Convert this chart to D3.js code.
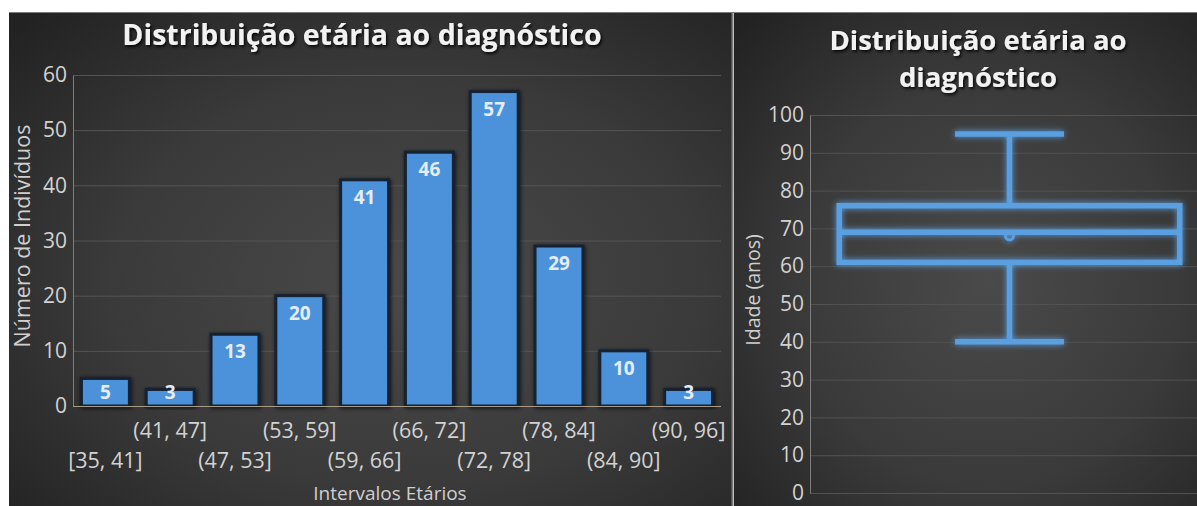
<!DOCTYPE html>
<html>
<head>
<meta charset="utf-8">
<script src="https://cdn.jsdelivr.net/npm/d3@7"></script>
<style>
  html, body { margin: 0; padding: 0; background: #ffffff; }
  svg { display: block; }
  text { font-family: "Open Sans", "Noto Sans", sans-serif; }
</style>
</head>
<body>
<svg id="chart" width="1197" height="506"></svg>
<script>
// Histogram: age intervals and patient counts
const intervals = ["[35, 41]", "(41, 47]", "(47, 53]", "(53, 59]", "(59, 66]",
                   "(66, 72]", "(72, 78]", "(78, 84]", "(84, 90]", "(90, 96]"];
const counts = [5, 3, 13, 20, 41, 46, 57, 29, 10, 3];
const countTicks = [0, 10, 20, 30, 40, 50, 60];

// Box plot: age at diagnosis (years)
const ageStats = ["Idade"];
const ageMin = [40];
const ageQ1 = [61];
const ageMedian = [69];
const ageQ3 = [76];
const ageMax = [95];
const ageMean = [68];
const ageTicks = [0, 10, 20, 30, 40, 50, 60, 70, 80, 90, 100];

const titleText = "Distribuição etária ao diagnóstico";

const svg = d3.select("#chart");
const defs = svg.append("defs");

// panel backgrounds: soft radial dark gradient
function panelGradient(id) {
  const g = defs.append("radialGradient").attr("id", id)
    .attr("cx", "55%").attr("cy", "55%").attr("r", "75%");
  g.append("stop").attr("offset", "0%").attr("stop-color", "#4a4a4a");
  g.append("stop").attr("offset", "55%").attr("stop-color", "#3a3a3a");
  g.append("stop").attr("offset", "100%").attr("stop-color", "#222222");
}
panelGradient("bgLeft");
panelGradient("bgRight");

// title shadow
const sh = defs.append("filter").attr("id", "txtShadow")
  .attr("x", "-10%").attr("y", "-30%").attr("width", "120%").attr("height", "160%");
sh.append("feDropShadow").attr("dx", 1.5).attr("dy", 2).attr("stdDeviation", 1.6)
  .attr("flood-color", "#000").attr("flood-opacity", 0.85);

// bar shadow
const bs = defs.append("filter").attr("id", "barShadow")
  .attr("x", "-20%").attr("y", "-20%").attr("width", "140%").attr("height", "140%");
bs.append("feDropShadow").attr("dx", 1).attr("dy", 1).attr("stdDeviation", 2)
  .attr("flood-color", "#000").attr("flood-opacity", 0.7);

// glow for box plot strokes
const gl = defs.append("filter").attr("id", "glow")
  .attr("x", "-20%").attr("y", "-20%").attr("width", "140%").attr("height", "140%");
gl.append("feGaussianBlur").attr("in", "SourceGraphic").attr("stdDeviation", 3).attr("result", "b");
const gm = gl.append("feMerge");
gm.append("feMergeNode").attr("in", "b");
gm.append("feMergeNode").attr("in", "SourceGraphic");

// ---- panels ----
svg.append("rect").attr("x", 9).attr("y", 12).attr("width", 723).attr("height", 494)
  .attr("fill", "url(#bgLeft)");
svg.append("rect").attr("x", 734).attr("y", 12).attr("width", 463).attr("height", 494)
  .attr("fill", "url(#bgRight)");
svg.append("line").attr("x1", 9).attr("x2", 1197).attr("y1", 12.5).attr("y2", 12.5)
  .attr("stroke", "#7a7a7a").attr("stroke-width", 1);
svg.append("line").attr("x1", 732.5).attr("x2", 732.5).attr("y1", 12).attr("y2", 506)
  .attr("stroke", "#7c7c7c").attr("stroke-width", 2);

// ================= Histogram =================
const x = d3.scaleBand().domain(intervals).range([73, 721])
  .paddingInner(0.26).paddingOuter(0.13);
const y = d3.scaleLinear().domain([0, 60]).range([406, 75]);

const left = svg.append("g");

// gridlines
left.append("g")
  .attr("transform", "translate(73,0)")
  .call(d3.axisLeft(y).tickValues(countTicks).tickSize(-648).tickFormat(""))
  .call(g => g.select(".domain").remove())
  .call(g => g.selectAll(".tick line").attr("stroke", "#555555").attr("stroke-width", 1));

// y axis
left.append("g")
  .attr("transform", "translate(73,0)")
  .call(d3.axisLeft(y).tickValues(countTicks).tickSize(0).tickPadding(6))
  .call(g => g.select(".domain").attr("stroke", "#7e7e7e").attr("stroke-width", 1))
  .call(g => g.selectAll(".tick text").attr("fill", "#d2d2d2")
    .style("font-size", "21px"));

// bars
left.append("g").selectAll("rect").data(counts).join("rect")
  .attr("x", (d, i) => x(intervals[i]))
  .attr("y", d => y(d))
  .attr("width", x.bandwidth())
  .attr("height", d => y(0) - y(d))
  .attr("fill", "#4b92db")
  .attr("stroke", "#152230")
  .attr("stroke-width", 3)
  .attr("filter", "url(#barShadow)");

// baseline
left.append("line").attr("x1", 73).attr("x2", 721)
  .attr("y1", y(0) + 0.5).attr("y2", y(0) + 0.5)
  .attr("stroke", "#a89a88").attr("stroke-width", 1.2);

// bar value labels (inside end, kept above the baseline for short bars)
left.append("g").selectAll("text").data(counts).join("text")
  .attr("x", (d, i) => x(intervals[i]) + x.bandwidth() / 2)
  .attr("y", d => Math.min(y(d) + 24, y(0) - 7))
  .attr("text-anchor", "middle")
  .attr("fill", "#e4ecf6")
  .style("font-size", "19px").style("font-weight", "700")
  .text(d => d);

// x category labels, staggered on two rows
left.append("g").selectAll("text").data(intervals).join("text")
  .attr("x", d => x(d) + x.bandwidth() / 2)
  .attr("y", (d, i) => i % 2 === 1 ? 438 : 468)
  .attr("text-anchor", "middle")
  .attr("fill", "#d2d2d2")
  .style("font-size", "21.5px")
  .text(d => d);

// axis titles
left.append("text").attr("x", 390).attr("y", 500)
  .attr("text-anchor", "middle").attr("fill", "#cfcfcf")
  .style("font-size", "19px").text("Intervalos Etários");
left.append("text")
  .attr("transform", "translate(30,236) rotate(-90)")
  .attr("text-anchor", "middle").attr("fill", "#cfcfcf")
  .style("font-size", "21.5px").text("Número de Indivíduos");

// chart title
left.append("text").attr("x", 362).attr("y", 45)
  .attr("text-anchor", "middle").attr("fill", "#f2f2f2")
  .style("font-size", "28.5px").style("font-weight", "700")
  .attr("filter", "url(#txtShadow)")
  .text(titleText);

// ================= Box plot =================
const yb = d3.scaleLinear().domain([0, 100]).range([493, 115]);
const xb = d3.scaleBand().domain(ageStats).range([812, 1207]).paddingOuter(0.08);

const right = svg.append("g");

right.append("g")
  .attr("transform", "translate(810,0)")
  .call(d3.axisLeft(yb).tickValues(ageTicks).tickSize(-387).tickFormat(""))
  .call(g => g.select(".domain").remove())
  .call(g => g.selectAll(".tick line").attr("stroke", "#525252").attr("stroke-width", 1));

right.append("g")
  .attr("transform", "translate(810,0)")
  .call(d3.axisLeft(yb).tickValues(ageTicks).tickSize(0).tickPadding(6))
  .call(g => g.select(".domain").attr("stroke", "#7e7e7e").attr("stroke-width", 1))
  .call(g => g.selectAll(".tick text").attr("fill", "#d2d2d2")
    .style("font-size", "21px"));

right.append("text")
  .attr("transform", "translate(760,290) rotate(-90)")
  .attr("text-anchor", "middle").attr("fill", "#cfcfcf")
  .style("font-size", "19.5px").text("Idade (anos)");

const titleLines = ["Distribuição etária ao", "diagnóstico"];
right.append("g").selectAll("text").data(titleLines).join("text")
  .attr("x", 978).attr("y", (d, i) => 50 + i * 37)
  .attr("text-anchor", "middle").attr("fill", "#f2f2f2")
  .style("font-size", "27.5px").style("font-weight", "700")
  .attr("filter", "url(#txtShadow)")
  .text(d => d);

const boxColor = "#5a9fe0";
const bw = 5.5;
const box = right.append("g").attr("filter", "url(#glow)")
  .attr("stroke", boxColor).attr("stroke-width", bw).attr("fill", "none");

ageStats.forEach((k, i) => {
  const x0 = xb(k), w = xb.bandwidth(), cx = x0 + w / 2, cap = w * 0.16;
  // whiskers
  box.append("line").attr("x1", cx).attr("x2", cx)
    .attr("y1", yb(ageQ3[i])).attr("y2", yb(ageMax[i]));
  box.append("line").attr("x1", cx).attr("x2", cx)
    .attr("y1", yb(ageQ1[i])).attr("y2", yb(ageMin[i]));
  box.append("line").attr("x1", cx - cap).attr("x2", cx + cap)
    .attr("y1", yb(ageMax[i])).attr("y2", yb(ageMax[i]));
  box.append("line").attr("x1", cx - cap).attr("x2", cx + cap)
    .attr("y1", yb(ageMin[i])).attr("y2", yb(ageMin[i]));
  // box
  box.append("rect").attr("x", x0).attr("y", yb(ageQ3[i]))
    .attr("width", w).attr("height", yb(ageQ1[i]) - yb(ageQ3[i]));
  // mean marker
  box.append("circle").attr("cx", cx).attr("cy", yb(ageMean[i])).attr("r", 4)
    .attr("stroke-width", 3);
  // median
  box.append("line").attr("x1", x0).attr("x2", x0 + w)
    .attr("y1", yb(ageMedian[i])).attr("y2", yb(ageMedian[i]));
});
</script>
</body>
</html>
